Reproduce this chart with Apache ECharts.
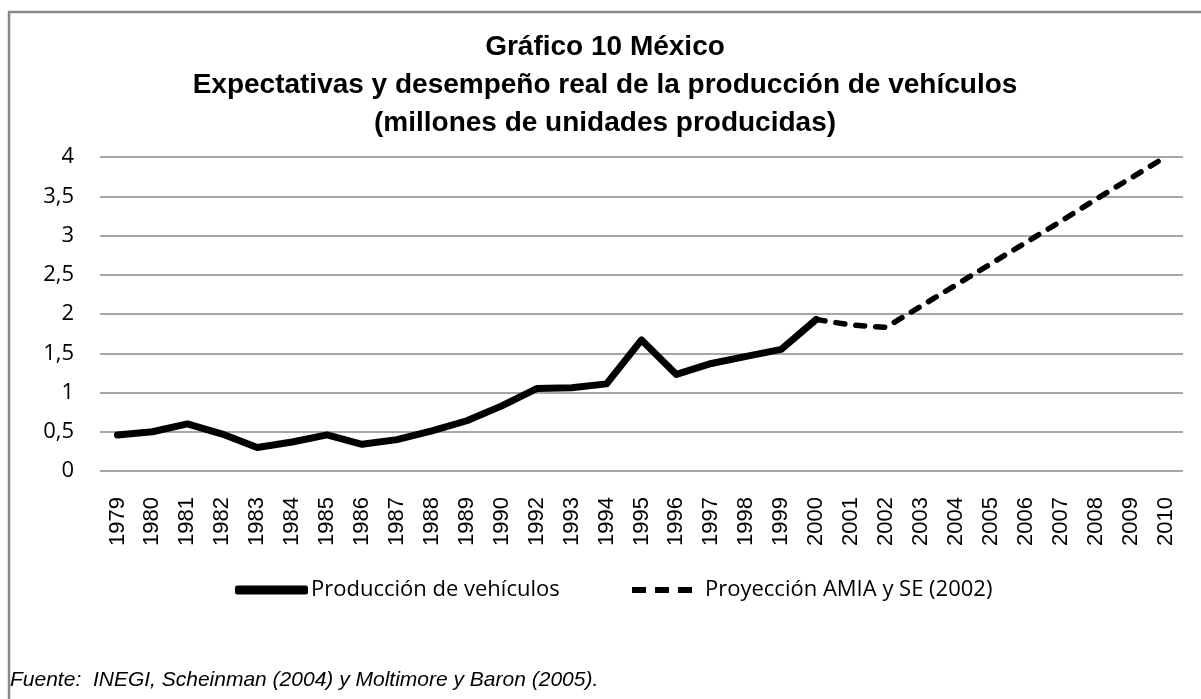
<!DOCTYPE html>
<html>
<head>
<meta charset="utf-8">
<script src="https://cdn.jsdelivr.net/npm/echarts@6/dist/echarts.min.js"></script>
<style>
html,body{margin:0;padding:0;background:#fff;}
#c{width:1201px;height:699px;}
</style>
</head>
<body>
<div id="c"></div>
<script>
var years = ['1979','1980','1981','1982','1983','1984','1985','1986','1987','1988','1989','1990','1992','1993','1994','1995','1996','1997','1998','1999','2000','2001','2002','2003','2004','2005','2006','2007','2008','2009','2010'];
var produccion = [0.46,0.50,0.60,0.47,0.30,0.37,0.46,0.34,0.40,0.51,0.64,0.83,1.05,1.06,1.11,1.67,1.23,1.37,1.46,1.55,1.93,'-','-','-','-','-','-','-','-','-','-'];
var proyeccion = ['-','-','-','-','-','-','-','-','-','-','-','-','-','-','-','-','-','-','-','-',1.93,1.86,1.83,2.10,2.37,2.64,2.91,3.18,3.46,3.73,4.00];
var yTicks = [0,0.5,1,1.5,2,2.5,3,3.5,4];
var seriesNames = ['Producción de vehículos','Proyección AMIA y SE (2002)'];
var titleText = 'Gráfico 10 México\nExpectativas y desempeño real de la producción de vehículos\n(millones de unidades producidas)';
var sourceText = 'Fuente:  INEGI, Scheinman (2004) y Moltimore y Baron (2005).';

var chart = echarts.init(document.getElementById('c'), null, {renderer:'canvas'});
chart.setOption({
  backgroundColor:'#fff',
  animation:false,
  title:{
    text:titleText,
    left:600, top:23,
    textAlign:'center',
    textStyle:{fontFamily:'Liberation Sans, Arial', fontWeight:'bold', fontSize:28, color:'#000', lineHeight:38}
  },
  graphic:[
    {type:'rect', shape:{x:9, y:12, width:1210, height:720}, style:{fill:'none', stroke:'#888', lineWidth:2.5}, silent:true},
    {type:'text', left:10, top:670, style:{text:sourceText, font:'italic 21px "Liberation Sans", Arial', fill:'#000'}}
  ],
  legend:[
    {data:[seriesNames[0]], left:230, top:574, itemWidth:73, itemHeight:9, icon:'roundRect', itemStyle:{color:'#000'},
      textStyle:{fontFamily:'Open Sans', fontSize:22, color:'#000', padding:[0,0,0,-2]}},
    {data:[seriesNames[1]], left:627, top:574, itemWidth:60, itemHeight:6,
      icon:'path://M0,0 h14 v6 h-14 z M23,0 h14 v6 h-14 z M46,0 h14 v6 h-14 z', itemStyle:{color:'#000'},
      textStyle:{fontFamily:'Open Sans', fontSize:22, color:'#000', padding:[0,0,0,8]}}
  ],
  grid:{left:100, right:18, top:157, bottom:228, containLabel:false},
  xAxis:{
    type:'category', data:years, boundaryGap:true,
    axisLine:{show:false}, axisTick:{show:false},
    axisLabel:{rotate:90, margin:26, fontFamily:'Liberation Sans, Arial', fontSize:22, color:'#000', interval:0}
  },
  yAxis:{
    type:'value', min:0, max:4, interval:0.5,
    axisLine:{show:false}, axisTick:{show:false},
    splitLine:{lineStyle:{color:'#8a8a8a', width:1.5}},
    axisLabel:{margin:26, fontFamily:'Open Sans', fontSize:22, color:'#000',
      formatter:function(v){return yTicks.indexOf(v)>=0 ? String(v).replace('.',',') : '';}}
  },
  series:[
    {name:seriesNames[0], type:'line', data:produccion, symbol:'none', connectNulls:false,
      lineStyle:{color:'#000', width:7, cap:'round', join:'round'}, itemStyle:{color:'#000'}},
    {name:seriesNames[1], type:'line', data:proyeccion, symbol:'none',
      lineStyle:{color:'#000', width:5.5, type:[9,11], cap:'round', join:'round'}, itemStyle:{color:'#000'}}
  ]
});
</script>
</body>
</html>
